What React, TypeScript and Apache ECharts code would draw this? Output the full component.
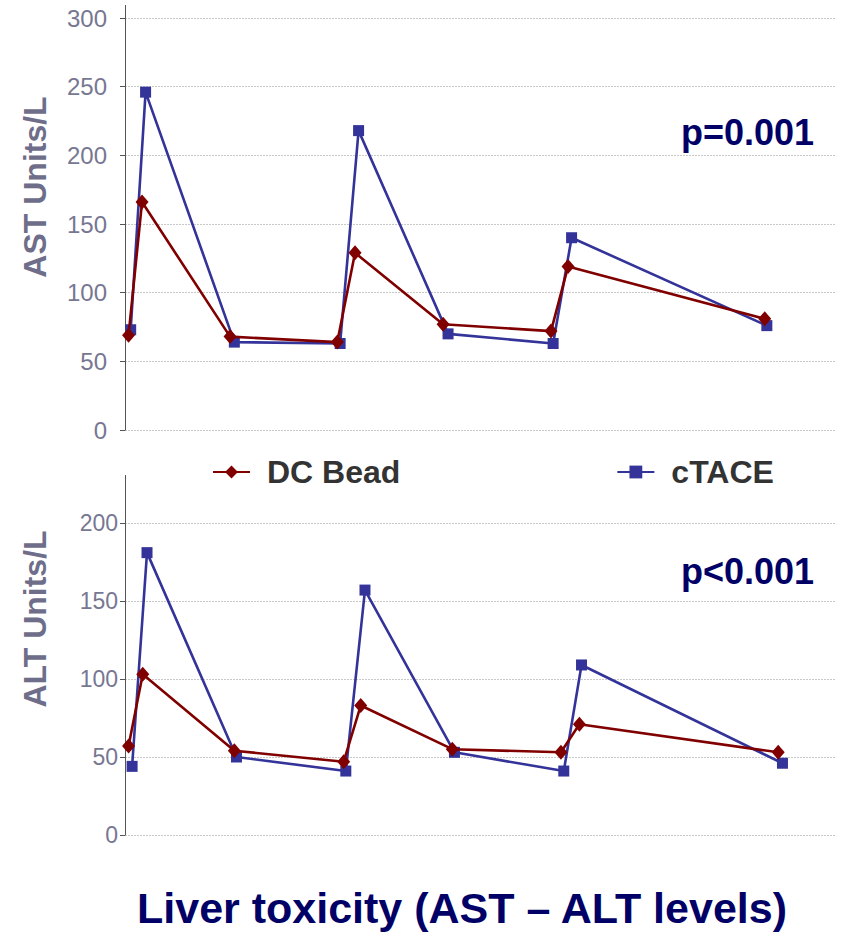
import React, { useEffect, useRef } from "react";
import * as echarts from "echarts";

// Time position (relative units, 0–100) and values
const xDcAst = [0.5, 2.4, 14.8, 29.9, 32.4, 44.8, 60.0, 62.4, 90.1];
const dcAst = [69, 166, 68, 64, 129, 77, 72, 119, 81];
const xCtAst = [0.8, 2.9, 15.4, 30.3, 32.9, 45.5, 60.3, 62.9, 90.4];
const ctAst = [73, 246, 64, 63, 218, 70, 63, 140, 76];

const xDcAlt = [0.5, 2.5, 15.4, 30.8, 33.2, 46.1, 61.4, 64.0, 92.0];
const dcAlt = [57, 103, 54, 47, 83, 55, 53, 71, 53];
const xCtAlt = [1.0, 3.1, 15.7, 31.1, 33.8, 46.4, 61.8, 64.3, 92.6];
const ctAlt = [44, 181, 50, 41, 157, 53, 41, 109, 46];

const seriesNames = ["DC Bead", "cTACE"];
const astRange = [0, 300];
const altRange = [0, 200];
const tickStep = 50;

const FONT = "'Liberation Sans', Arial, sans-serif";
const DC_COLOR = "#800000";
const CT_COLOR = "#333399";
const NAVY = "#000066";

const pairs = (xs: number[], ys: number[]) => xs.map((x, i) => [x, ys[i]]);

export default function App() {
  const ref = useRef<HTMLDivElement>(null);
  useEffect(() => {
    if (!ref.current) return;
    const chart = echarts.init(ref.current, null, { renderer: "svg" });
    const yAxisBase = (gridIndex: number, range: number[], fontSize: number, margin: number, pad: number) => ({
      gridIndex,
      type: "value",
      min: range[0],
      max: range[1],
      interval: tickStep,
      axisLine: { show: true, lineStyle: { color: "#555", width: 1 } },
      axisTick: { show: true, length: 5, lineStyle: { color: "#555" } },
      axisLabel: {
        fontSize,
        color: "#777792",
        margin,
        fontFamily: FONT,
        padding: [pad, 0, 0, 0],
      },
      splitLine: { show: true, lineStyle: { color: "#c8c8c8", width: 1, type: [2, 1] } },
    });
    const xAxisBase = (gridIndex: number) => ({
      gridIndex,
      type: "value",
      min: 0,
      max: 100,
      show: false,
    });
    const lineSeries = (name: string, axis: number, data: number[][], color: string, symbol: string, size: any) => ({
      name,
      type: "line",
      xAxisIndex: axis,
      yAxisIndex: axis,
      data,
      symbol,
      symbolSize: size,
      lineStyle: { color, width: 2.6 },
      itemStyle: { color },
      z: name === "cTACE" ? 3 : 4,
    });
    chart.setOption({
      animation: false,
      backgroundColor: "#ffffff",
      grid: [
        { left: 125, right: 7, top: 18, height: 412 },
        { left: 125, right: 7, top: 523, height: 312 },
      ],
      xAxis: [xAxisBase(0), xAxisBase(1)],
      yAxis: [yAxisBase(0, astRange, 24, 18, 7), yAxisBase(1, altRange, 23, 7, 8)],
      legend: {
        data: seriesNames,
        left: 207,
        top: 451,
        itemWidth: 37,
        itemHeight: 16,
        itemGap: 216,
        textStyle: {
          fontSize: 32,
          fontWeight: "bold",
          color: "#333333",
          fontFamily: FONT,
          padding: [0, 0, 0, 12],
        },
      },
      series: [
        lineSeries("DC Bead", 0, pairs(xDcAst, dcAst), DC_COLOR, "diamond", [13, 15]),
        lineSeries("cTACE", 0, pairs(xCtAst, ctAst), CT_COLOR, "rect", 11),
        lineSeries("DC Bead", 1, pairs(xDcAlt, dcAlt), DC_COLOR, "diamond", [13, 15]),
        lineSeries("cTACE", 1, pairs(xCtAlt, ctAlt), CT_COLOR, "rect", 11),
      ],
      graphic: [
        { type: "line", shape: { x1: 125.5, y1: 5, x2: 125.5, y2: 18 }, style: { stroke: "#555", lineWidth: 1 } },
        { type: "line", shape: { x1: 125.5, y1: 475, x2: 125.5, y2: 523 }, style: { stroke: "#555", lineWidth: 1 } },
        {
          type: "text",
          x: 35,
          y: 187,
          rotation: Math.PI / 2,
          style: {
            text: "AST Units/L",
            font: `bold 32px ${FONT}`,
            fill: "#6e6e8a",
            align: "center",
            verticalAlign: "middle",
          },
        },
        {
          type: "text",
          x: 35,
          y: 619,
          rotation: Math.PI / 2,
          style: {
            text: "ALT Units/L",
            font: `bold 32px ${FONT}`,
            fill: "#6e6e8a",
            align: "center",
            verticalAlign: "middle",
          },
        },
        {
          type: "text",
          x: 681,
          y: 132,
          style: { text: "p=0.001", font: `bold 36px ${FONT}`, fill: NAVY, align: "left", verticalAlign: "middle" },
        },
        {
          type: "text",
          x: 681,
          y: 571,
          style: { text: "p<0.001", font: `bold 36px ${FONT}`, fill: NAVY, align: "left", verticalAlign: "middle" },
        },
        {
          type: "text",
          x: 462,
          y: 908,
          style: {
            text: "Liver toxicity (AST – ALT levels)",
            font: `bold 43px ${FONT}`,
            fill: NAVY,
            align: "center",
            verticalAlign: "middle",
          },
        },
      ],
    });
    return () => chart.dispose();
  }, []);
  return (
    <div
      ref={ref}
      style={{ position: "absolute", left: 0, top: 0, width: 842, height: 932, background: "#fff" }}
    />
  );
}
